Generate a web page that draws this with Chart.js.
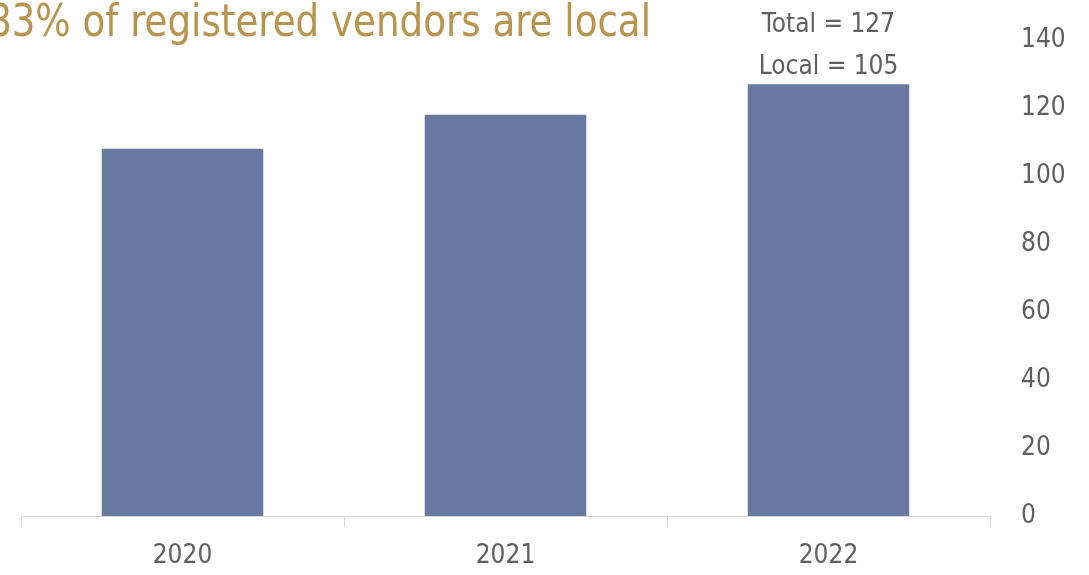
<!DOCTYPE html>
<html>
<head>
<meta charset="utf-8">
<script src="https://cdn.jsdelivr.net/npm/chart.js@4"></script>
<style>
html,body{margin:0;padding:0;background:#fff;}
#wrap{width:1089px;height:575px;position:relative;}
</style>
</head>
<body>
<div id="wrap"><canvas id="c" width="1089" height="575"></canvas></div>
<script>
const categories = ['2020', '2021', '2022'];
const totalVendors = [108, 118, 127];
const localVendors = [null, null, 105];
const yTicks = [0, 20, 40, 60, 80, 100, 120, 140];
const titleText = '83% of registered vendors are local';

const FONT = '"Liberation Sans Narrow", "DejaVu Sans Condensed", "Roboto", sans-serif';

const overlay = {
  id: 'overlay',
  afterDraw(chart) {
    const ctx = chart.ctx;
    const xs = chart.scales.x, ys = chart.scales.y;
    ctx.save();
    ctx.fillStyle = '#B8944F';
    ctx.font = '300 44px ' + FONT;
    ctx.textBaseline = 'alphabetic';
    ctx.textAlign = 'left';
    ctx.save();
    ctx.translate(-12, 36);
    ctx.scale(0.94, 1);
    ctx.fillText(titleText, 0, 0);
    ctx.restore();
    ctx.fillStyle = '#5f5f5f';
    ctx.font = '26px ' + FONT;
    ctx.textAlign = 'center';
    ctx.textBaseline = 'middle';
    const i = 2;
    const x = xs.getPixelForValue(i);
    const y = ys.getPixelForValue(totalVendors[i]);
    ctx.fillText('Total = ' + totalVendors[i], x, y - 59);
    ctx.fillText('Local = ' + localVendors[i], x, y - 17);
    ctx.restore();
  }
};

new Chart(document.getElementById('c'), {
  type: 'bar',
  data: {
    labels: categories,
    datasets: [{
      data: totalVendors,
      backgroundColor: '#67799F',
      barPercentage: 1.0,
      categoryPercentage: 0.5
    }]
  },
  options: {
    responsive: false,
    animation: false,
    layout: { padding: { left: 21, top: 40, right: 0, bottom: 0 } },
    plugins: { legend: { display: false }, tooltip: { enabled: false } },
    scales: {
      x: {
        offset: true,
        grid: { display: true, drawOnChartArea: false, drawTicks: true, tickLength: 11, color: '#D9D9D9', offset: true },
        border: { display: true, color: '#D9D9D9', width: 1 },
        ticks: { color: '#5f5f5f', font: { family: FONT, size: 26 }, padding: 14 },
        afterFit(s) { s.height = 59; }
      },
      y: {
        position: 'right',
        min: 0, max: 140,
        grid: { display: false, drawTicks: true, tickLength: 31 },
        border: { display: false },
        afterBuildTicks(s) { s.ticks = yTicks.map(v => ({ value: v })); },
        ticks: { color: '#5f5f5f', font: { family: FONT, size: 26 }, padding: 0 },
        afterFit(s) { s.width = 99; }
      }
    }
  },
  plugins: [overlay]
});
</script>
</body>
</html>
